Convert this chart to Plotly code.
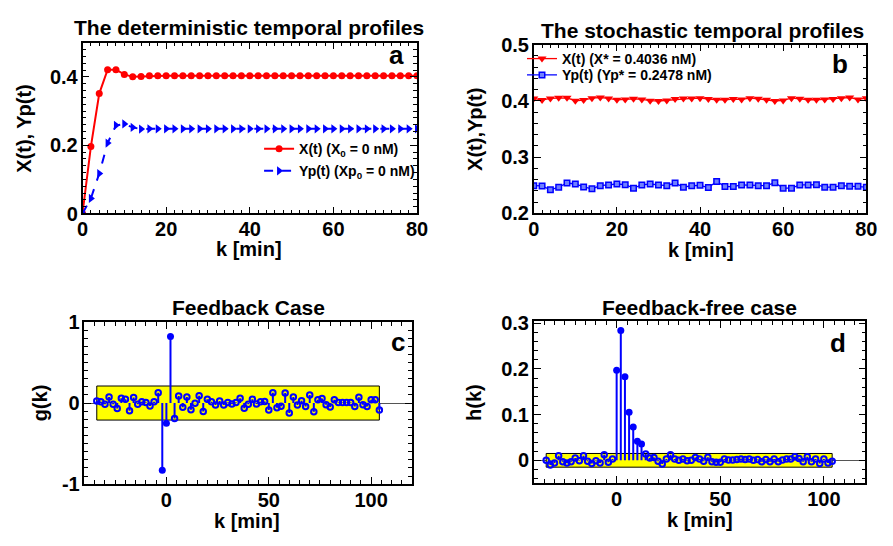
import plotly.graph_objects as go

# ---------------- data ----------------
k_det = [0, 2, 4, 6, 8, 10, 12, 14, 16, 18, 20, 22, 24, 26, 28, 30, 32, 34, 36, 38, 40,
         42, 44, 46, 48, 50, 52, 54, 56, 58, 60, 62, 64, 66, 68, 70, 72, 74, 76, 78, 80]
X_det = [0.0, 0.196, 0.351, 0.421, 0.421, 0.407, 0.400, 0.401, 0.403, 0.403, 0.403,
         0.403, 0.403, 0.403, 0.403, 0.403, 0.403, 0.403, 0.403, 0.403, 0.403,
         0.403, 0.403, 0.403, 0.403, 0.403, 0.403, 0.403, 0.403, 0.403, 0.403,
         0.403, 0.403, 0.403, 0.403, 0.403, 0.403, 0.403, 0.403, 0.403, 0.403]
Yp_det = [0.0, 0.044, 0.117, 0.206, 0.258, 0.262, 0.252, 0.247, 0.248, 0.248, 0.248,
          0.248, 0.248, 0.248, 0.248, 0.248, 0.248, 0.248, 0.248, 0.248, 0.248,
          0.248, 0.248, 0.248, 0.248, 0.248, 0.248, 0.248, 0.248, 0.248, 0.248,
          0.248, 0.248, 0.248, 0.248, 0.248, 0.248, 0.248, 0.248, 0.248, 0.248]

X_sto = [0.4043, 0.4015, 0.4043, 0.4055, 0.4055, 0.4003, 0.4015, 0.4049, 0.4060, 0.4043,
         0.4020, 0.4026, 0.4038, 0.4026, 0.4003, 0.3998, 0.4009, 0.4032, 0.4043, 0.4043,
         0.4049, 0.4032, 0.4020, 0.4020, 0.4032, 0.4026, 0.4049, 0.4038, 0.4020, 0.3998,
         0.4009, 0.4049, 0.4038, 0.4020, 0.4020, 0.4026, 0.4032, 0.4049, 0.4060, 0.4026,
         0.4049]
Yp_sto = [0.2495, 0.2489, 0.2421, 0.2467, 0.2541, 0.2524, 0.2472, 0.2438, 0.2495, 0.2507,
          0.2524, 0.2512, 0.2450, 0.2507, 0.2524, 0.2507, 0.2495, 0.2541, 0.2467, 0.2495,
          0.2501, 0.2461, 0.2569, 0.2478, 0.2478, 0.2507, 0.2507, 0.2495, 0.2495, 0.2546,
          0.2450, 0.2450, 0.2507, 0.2507, 0.2512, 0.2467, 0.2467, 0.2495, 0.2484, 0.2484,
          0.2467]

k_lag = [-34, -32, -30, -28, -26, -24, -22, -20, -18, -16, -14, -12, -10, -8, -6, -4, -2,
         0, 2, 4, 6, 8, 10, 12, 14, 16, 18, 20, 22, 24, 26, 28, 30, 32, 34, 36, 38, 40,
         42, 44, 46, 48, 50, 52, 54, 56, 58, 60, 62, 64, 66, 68, 70, 72, 74, 76, 78, 80,
         82, 84, 86, 88, 90, 92, 94, 96, 98, 100, 102, 104]
g_vals = [0.024, 0.016, -0.016, 0.075, -0.016, -0.067, 0.060, 0.048, -0.095, 0.067, -0.016,
          0.016, 0.008, -0.036, 0.016, 0.127, -0.830,
          -0.250, 0.820, -0.190, 0.087, -0.051, 0.075, -0.083, -0.004, 0.091, -0.103, 0.048,
          0.016, -0.024, 0.024, -0.024, 0.008, -0.012, 0.008, 0.060, -0.063, -0.016,
          0.048, -0.012, 0.016, 0.020, -0.087, 0.127, -0.059, -0.040, 0.123, -0.123, 0.075,
          -0.024, 0.028, -0.044, 0.099, -0.107, 0.040, 0.055, -0.020, -0.048,
          0.040, 0.008, 0.008, 0.008, 0.008, -0.044, 0.071, -0.020, -0.044, 0.040, 0.040, -0.087]
h_vals = [0.000, -0.010, -0.006, 0.010, -0.003, -0.006, -0.003, 0.005, -0.001, 0.010, -0.002,
          -0.007, -0.001, -0.006, 0.012, -0.004, 0.003,
          0.197, 0.284, 0.183, 0.105, 0.073, 0.042, 0.036, 0.014, 0.005, 0.006, -0.002,
          -0.008, 0.003, 0.012, 0.003, 0.000, 0.003, -0.001, 0.000, 0.006, 0.003,
          -0.002, 0.007, -0.003, -0.004, -0.004, 0.003, 0.001, 0.001, 0.002, 0.003, 0.002,
          0.003, 0.000, 0.002, -0.003, 0.002, -0.003, 0.003, -0.003, 0.001,
          0.003, 0.003, 0.008, 0.004, -0.003, 0.008, -0.003, 0.003, -0.007, 0.003, -0.006, -0.002]
g_band = [-0.21, 0.21]
h_band = [-0.015, 0.015]

titles = ["The deterministic temporal profiles", "The stochastic temporal profiles",
          "Feedback Case", "Feedback-free case"]
panel_labels = ["a", "b", "c", "d"]
y_titles = ["X(t), Yp(t)", "X(t),Yp(t)", "g(k)", "h(k)"]
x_title = "k [min]"
c_ticks = [-1, 0, 1]
c_ticktext = ["-1", "0", "1"]

FONT = "Liberation Sans, Arial, sans-serif"
W, H = 893, 546

# panel rectangles in pixels: (left, top, right, bottom)
rects = [(78, 33, 419, 211), (538, 35, 877, 211), (80, 324, 414, 493), (538, 323, 876, 492)]
title_xy = [(248, 17.5), (710, 20), (247, 308.5), (707, 309)]
label_xy = [(398, 46), (850, 55), (400, 345), (848, 346)]
xtitle_xy = [(248, 248), (708, 249), (246, 531), (707, 530)]
ytitle_x = [18, 478, 35, 477]


def dom(r):
    l, t, rr, b = r
    return [l / W, rr / W], [1 - b / H, 1 - t / H]


fig = go.Figure()

# ---- panel a ----
fig.add_trace(go.Scatter(x=k_det, y=X_det, mode="lines+markers", name="X(t) (X<sub>0</sub> = 0 nM)",
                         line=dict(color="#ff0000", width=2),
                         marker=dict(symbol="circle", size=7, color="#ff0000"),
                         xaxis="x", yaxis="y", legend="legend"))
fig.add_trace(go.Scatter(x=k_det, y=Yp_det, mode="lines+markers", name="Yp(t) (Xp<sub>0</sub> = 0 nM)",
                         line=dict(color="#0000ff", width=2, dash="dash"),
                         marker=dict(symbol="triangle-right", size=8, color="#0000ff"),
                         xaxis="x", yaxis="y", legend="legend3"))

# ---- panel b ----
fig.add_trace(go.Scatter(x=k_det, y=X_sto, mode="lines+markers", name="X(t) (X* = 0.4036 nM)",
                         line=dict(color="#ff0000", width=1.3),
                         marker=dict(symbol="triangle-down", size=8, color="#ff0000"),
                         xaxis="x2", yaxis="y2", legend="legend2"))
fig.add_trace(go.Scatter(x=k_det, y=Yp_sto, mode="lines+markers", name="Yp(t) (Yp* = 0.2478 nM)",
                         line=dict(color="#0000ff", width=1.3),
                         marker=dict(symbol="square", size=5.5, color="#7080ff",
                                     line=dict(color="#0000ff", width=1.5)),
                         xaxis="x2", yaxis="y2", legend="legend4"))


# ---- stem panels ----
def add_stems(kv, vals, band, xa, ya):
    xs, ys = [], []
    for k, v in zip(kv, vals):
        xs += [k, k, None]
        ys += [0, v, None]
    fig.add_trace(go.Scatter(x=xs, y=ys, mode="lines", line=dict(color="#0000ff", width=2),
                             showlegend=False, hoverinfo="skip", xaxis=xa, yaxis=ya))
    inside = [abs(v) <= band[1] for v in vals]
    fig.add_trace(go.Scatter(x=[k for k, i in zip(kv, inside) if i],
                             y=[v for v, i in zip(vals, inside) if i],
                             mode="markers", showlegend=False,
                             marker=dict(symbol="circle-open", size=5.5, color="#0000ff",
                                         line=dict(width=2, color="#0000ff")),
                             xaxis=xa, yaxis=ya))
    fig.add_trace(go.Scatter(x=[k for k, i in zip(kv, inside) if not i],
                             y=[v for v, i in zip(vals, inside) if not i],
                             mode="markers", showlegend=False,
                             marker=dict(symbol="circle", size=7, color="#0000ff"),
                             xaxis=xa, yaxis=ya))
    fig.add_shape(type="rect", xref=xa, yref=ya, x0=min(kv), x1=max(kv), y0=band[0], y1=band[1],
                  fillcolor="#ffff00", line=dict(color="black", width=1), layer="between")


add_stems(k_lag, g_vals, g_band, "x3", "y3")
add_stems(k_lag, h_vals, h_band, "x4", "y4")

# ---- axes ----
tickfont = dict(family=FONT, size=20, color="black", weight="bold")
axis_common = dict(showline=True, linecolor="black", linewidth=1.5, mirror="allticks",
                   ticks="inside", ticklen=7, tickwidth=1.3, tickcolor="black",
                   showgrid=False, zeroline=False, tickfont=tickfont)

specs = [
    dict(xr=[0, 80], xd=20, xm=2, yr=[0, 0.5], yt=[0, 0.2, 0.4], ym=0.02),
    dict(xr=[0, 80], xd=20, xm=2, yr=[0.2, 0.5], yt=[0.2, 0.3, 0.4, 0.5], ym=0.02),
    dict(xr=[-40, 120], xd=50, xm=5, yr=[-1, 1], yt=c_ticks, ym=0.1),
    dict(xr=[-40, 120], xd=50, xm=5, yr=[-0.05, 0.305], yt=[0, 0.1, 0.2, 0.3], ym=0.02),
]

layout = dict(width=W, height=H, margin=dict(l=0, r=0, t=0, b=0),
              paper_bgcolor="white", plot_bgcolor="white", showlegend=True)
for i, (r, s) in enumerate(zip(rects, specs)):
    n = "" if i == 0 else str(i + 1)
    xd, yd = dom(r)
    xa = dict(axis_common, domain=xd, range=s["xr"], dtick=s["xd"], tick0=0,
              anchor="y" + n, ticklabelstandoff=-3,
              minor=dict(ticks="inside", ticklen=4, tickwidth=1, dtick=s["xm"], tick0=0,
                         tickcolor="black", showgrid=False))
    ya = dict(axis_common, domain=yd, range=s["yr"], tickmode="array", tickvals=s["yt"],
              anchor="x" + n, ticklabelstandoff=-1,
              minor=dict(ticks="inside", ticklen=4, tickwidth=1, dtick=s["ym"], tick0=0,
                         tickcolor="black", showgrid=False))
    if i == 2:
        ya["ticktext"] = c_ticktext
    if i >= 2:
        ya["zeroline"] = True
        ya["zerolinecolor"] = "#555555"
        ya["zerolinewidth"] = 1
    layout["xaxis" + n] = xa
    layout["yaxis" + n] = ya

legfont = dict(family=FONT, size=14, color="black", weight="bold")


def leg(xpx, ypx):
    return dict(x=xpx / W, y=1 - ypx / H, xanchor="left", yanchor="middle",
                bgcolor="rgba(0,0,0,0)", font=legfont, itemwidth=30, tracegroupgap=0)


layout["legend"] = leg(258, 144)
layout["legend3"] = leg(258, 167)
layout["legend2"] = leg(526, 50)
layout["legend4"] = leg(526, 67)

ann = []
title_font = dict(family=FONT, size=21, color="black", weight="bold")
label_font = dict(family=FONT, size=20, color="black", weight="bold")
for i, r in enumerate(rects):
    l, t, rr, b = r
    ann.append(dict(text=titles[i], x=title_xy[i][0] / W, y=1 - title_xy[i][1] / H,
                    xref="paper", yref="paper", xanchor="center", yanchor="middle",
                    showarrow=False, font=title_font))
    ann.append(dict(text=x_title, x=xtitle_xy[i][0] / W, y=1 - xtitle_xy[i][1] / H,
                    xref="paper", yref="paper", xanchor="center", yanchor="middle",
                    showarrow=False, font=label_font))
    ann.append(dict(text=panel_labels[i], x=label_xy[i][0] / W, y=1 - label_xy[i][1] / H,
                    xref="paper", yref="paper", xanchor="center", yanchor="middle",
                    showarrow=False, font=dict(family=FONT, size=26, color="black", weight="bold")))
    ann.append(dict(text=y_titles[i], x=ytitle_x[i] / W, y=1 - ((t + b) / 2) / H, xref="paper",
                    yref="paper", xanchor="center", yanchor="middle", textangle=-90,
                    showarrow=False, font=label_font))
layout["annotations"] = ann

fig.update_layout(**layout)
fig.write_html("out.html")
